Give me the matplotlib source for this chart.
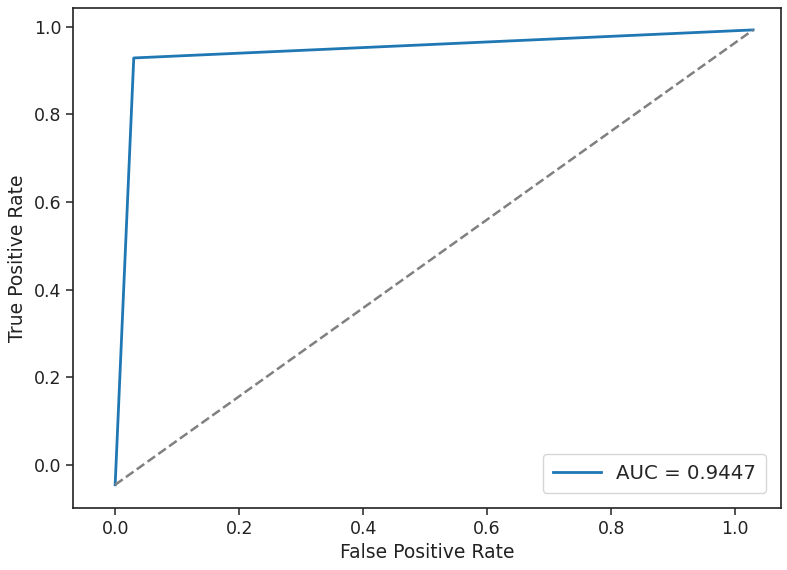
import matplotlib
matplotlib.use('Agg')
import matplotlib.pyplot as plt

# ROC curve points
fpr = [0.0, 0.030, 1.029]
tpr = [-0.045, 0.929, 0.993]
auc_label = 'AUC = 0.9447'

# chance line
diag_x = [0.0, 1.029]
diag_y = [-0.045, 0.993]


def main():
    plt.rcParams['font.family'] = 'DejaVu Sans'
    fig = plt.figure(figsize=(7.87, 5.70), dpi=100)
    ax = fig.add_axes([73 / 787, 62 / 570, 708 / 787, 500 / 570])

    ax.plot(fpr, tpr, color='#1f77b4', lw=2, label=auc_label)
    ax.plot(diag_x, diag_y, color='grey', lw=1.8, ls='--')

    ax.set_xlim(-0.068, 1.074)
    ax.set_ylim(-0.098, 1.043)
    ax.set_xticks([0.0, 0.2, 0.4, 0.6, 0.8, 1.0])
    ax.set_yticks([0.0, 0.2, 0.4, 0.6, 0.8, 1.0])

    for s in ax.spines.values():
        s.set_linewidth(1.2)
        s.set_color('#222222')
    ax.tick_params(direction='out', length=5, width=1.1, labelsize=12.5,
                   colors='#222222', top=False, right=False)

    ax.set_xlabel('False Positive Rate', fontsize=13.5, color='#222222')
    ax.set_ylabel('True Positive Rate', fontsize=13.5, color='#222222', labelpad=5)

    leg = ax.legend(loc='lower right', fontsize=14.2, handlelength=2.4,
                    borderpad=0.5, borderaxespad=0.75, frameon=True)
    leg.get_frame().set_edgecolor('#cccccc')
    for t in leg.get_texts():
        t.set_color('#262626')

    fig.savefig('out.png', dpi=100)


if __name__ == '__main__':
    main()
